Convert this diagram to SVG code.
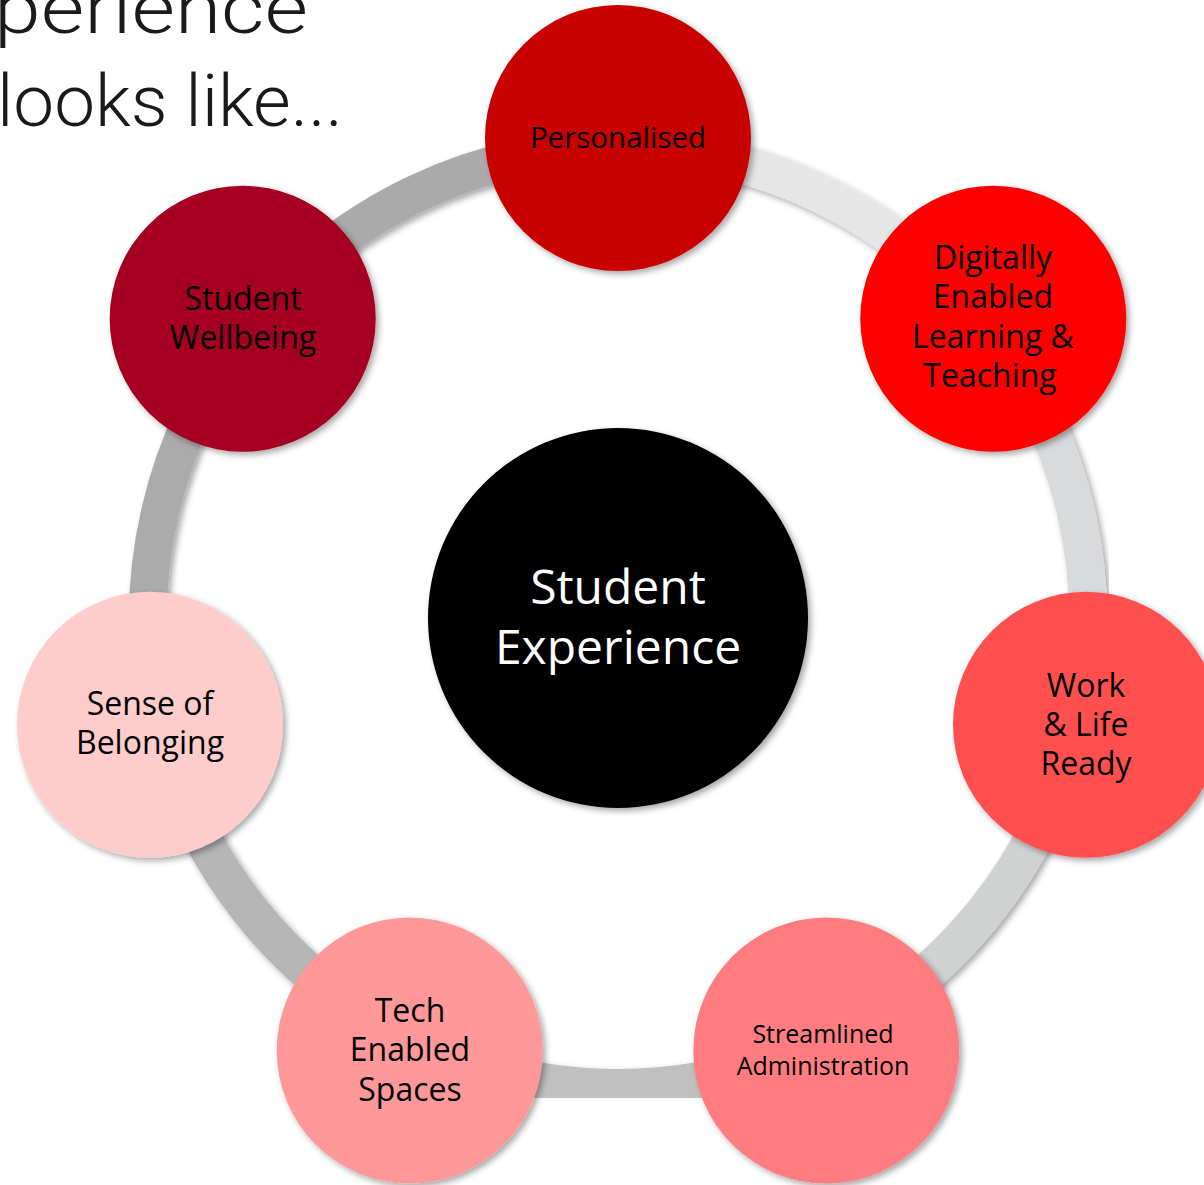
<svg xmlns="http://www.w3.org/2000/svg" width="1204" height="1185" viewBox="0 0 1204 1185">
<defs>
<filter id="sh" x="-20%" y="-20%" width="140%" height="140%">
<feDropShadow dx="3" dy="3" stdDeviation="3" flood-color="#000" flood-opacity="0.35"/>
</filter>
<style>
.seg{fill:none;stroke-width:38;filter:url(#sh)}
.node{filter:url(#sh)}
.lbl{font-family:"Open Sans","DejaVu Sans",sans-serif;font-size:32px;fill:#000;text-anchor:middle}
.title{font-family:Roboto,"Liberation Sans",sans-serif;font-weight:300;font-size:72px;fill:#1a1a1a}
</style>
</defs>
<rect width="1204" height="1185" fill="#fff"/>
<g id="title">
<text class="title" x="-6" y="33" textLength="314" lengthAdjust="spacingAndGlyphs">perience</text>
<text class="title" x="-3" y="126" textLength="346" lengthAdjust="spacingAndGlyphs">looks like...</text>
</g>
<g id="connectors">
<path class="seg" stroke="#aaaaaa" d="M250.54 324.96 A470 470 0 0 1 618 148"/>
<path class="seg" stroke="#e6e6e6" d="M618 148 A470 470 0 0 1 985.46 324.96"/>
<path class="seg" stroke="#d9dadb" d="M985.46 324.96 A470 470 0 0 1 1076.22 722.58"/>
<path class="seg" stroke="#d0d1d1" d="M1076.22 722.58 A470 470 0 0 1 821.92 1041.46"/>
<path class="seg" stroke="#c0c0c0" d="M821.92 1041.46 A470 470 0 0 1 414.08 1041.46"/>
<path class="seg" stroke="#b6b6b6" d="M414.08 1041.46 A470 470 0 0 1 159.78 722.58"/>
<path class="seg" stroke="#ababab" d="M159.78 722.58 A470 470 0 0 1 250.54 324.96"/>
</g>
<g id="center">
<circle class="node" cx="618" cy="618" r="190" fill="#000"/>
<text class="lbl" x="618" y="604" style="font-size:48px;fill:#fff">Student</text>
<text class="lbl" x="618" y="664" style="font-size:48px;fill:#fff">Experience</text>
</g>
<g id="personalised">
<circle class="node" cx="618" cy="138" r="133" fill="#c80000"/>
<text class="lbl" x="618" y="148" style="font-size:29.5px">Personalised</text>
</g>
<g id="digitally">
<circle class="node" cx="993.3" cy="318.7" r="133" fill="#ff0000"/>
<text class="lbl" x="993" y="269">Digitally</text>
<text class="lbl" x="993" y="308">Enabled</text>
<text class="lbl" x="993" y="348">Learning &amp;</text>
<text class="lbl" x="990" y="387">Teaching</text>
</g>
<g id="worklife">
<circle class="node" cx="1086" cy="724.8" r="133" fill="#ff5050"/>
<text class="lbl" x="1086" y="697">Work</text>
<text class="lbl" x="1086" y="736">&amp; Life</text>
<text class="lbl" x="1086" y="775">Ready</text>
</g>
<g id="streamlined">
<circle class="node" cx="826.3" cy="1050.5" r="133" fill="#ff7c80"/>
<text class="lbl" x="823" y="1043" style="font-size:25px">Streamlined</text>
<text class="lbl" x="823" y="1075" style="font-size:25px">Administration</text>
</g>
<g id="tech">
<circle class="node" cx="409.7" cy="1050.5" r="133" fill="#ff9999"/>
<text class="lbl" x="410" y="1022">Tech</text>
<text class="lbl" x="410" y="1061">Enabled</text>
<text class="lbl" x="410" y="1101">Spaces</text>
</g>
<g id="belonging">
<circle class="node" cx="150" cy="724.8" r="133" fill="#ffcccc"/>
<text class="lbl" x="150" y="715">Sense of</text>
<text class="lbl" x="150" y="754">Belonging</text>
</g>
<g id="wellbeing">
<circle class="node" cx="242.7" cy="318.7" r="133" fill="#a50021"/>
<text class="lbl" x="243" y="310">Student</text>
<text class="lbl" x="243" y="349">Wellbeing</text>
</g>
</svg>
